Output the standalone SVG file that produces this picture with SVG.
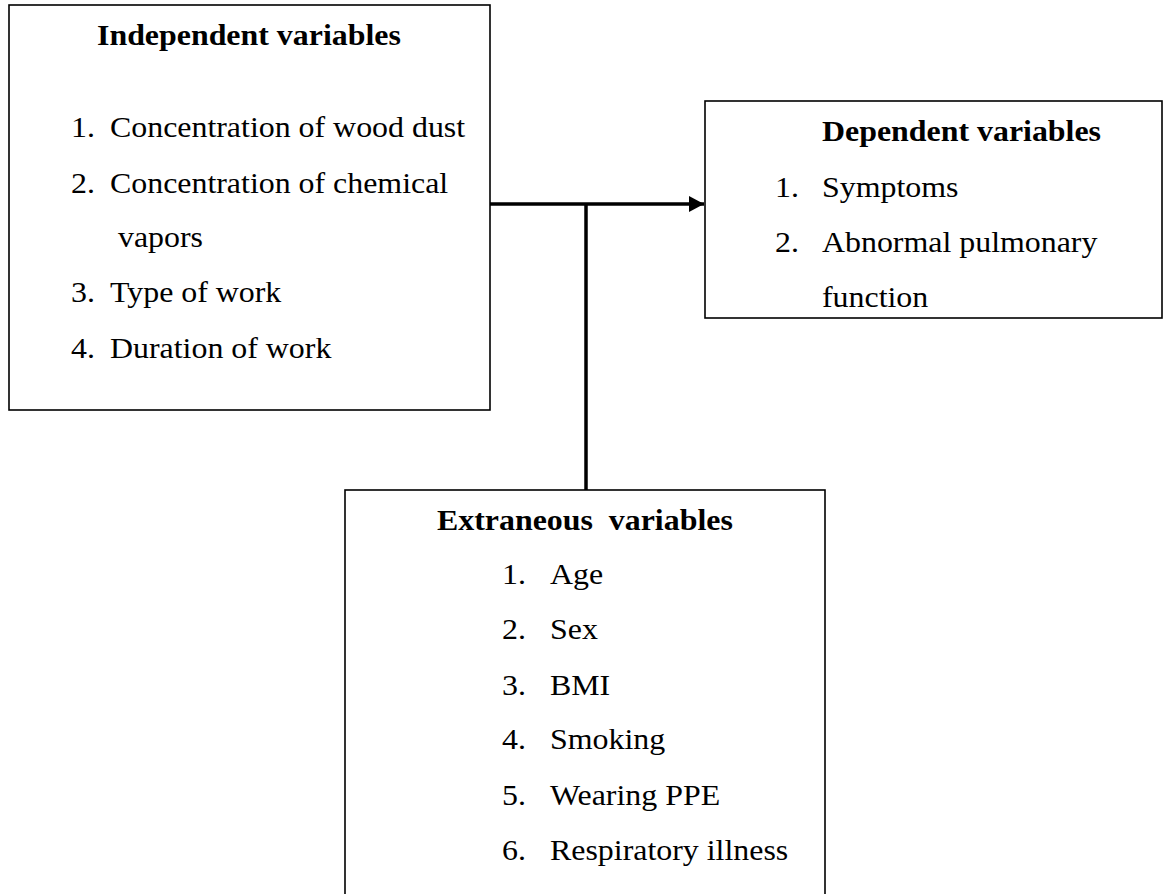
<svg xmlns="http://www.w3.org/2000/svg" width="1163" height="894" viewBox="0 0 1163 894">
<style>
.box{fill:#fff;stroke:#000;stroke-width:1.6}
.t{font-family:"Liberation Serif","Times New Roman",serif;font-size:29px;fill:#000}
.b{font-weight:bold}
.conn{stroke:#000;stroke-width:3.5;fill:none}
</style>
<defs>
<marker id="arr" markerUnits="userSpaceOnUse" markerWidth="16" markerHeight="18" refX="15" refY="8" orient="auto">
<path d="M0,0 L15,8 L0,16 Z" fill="#000"/>
</marker>
</defs>
<rect width="1163" height="894" fill="#fff"/>
<g id="connectors">
<line class="conn" x1="490" y1="204" x2="704" y2="204" marker-end="url(#arr)"/>
<line class="conn" x1="586" y1="204" x2="586" y2="490"/>
</g>
<g id="independent">
<rect class="box" x="9" y="5" width="481" height="405"/>
<text class="t b" transform="translate(97,45) scale(1.1,1)">Independent variables</text>
<text class="t" transform="translate(71,137) scale(1.1,1)">1.</text>
<text class="t" transform="translate(110,137) scale(1.1,1)">Concentration of wood dust</text>
<text class="t" transform="translate(71,193) scale(1.1,1)">2.</text>
<text class="t" transform="translate(110,193) scale(1.1,1)">Concentration of chemical</text>
<text class="t" transform="translate(118,247) scale(1.1,1)">vapors</text>
<text class="t" transform="translate(71,302) scale(1.1,1)">3.</text>
<text class="t" transform="translate(110,302) scale(1.1,1)">Type of work</text>
<text class="t" transform="translate(71,358) scale(1.1,1)">4.</text>
<text class="t" transform="translate(110,358) scale(1.1,1)">Duration of work</text>
</g>
<g id="dependent">
<rect class="box" x="705" y="101" width="457" height="217"/>
<text class="t b" transform="translate(822,141) scale(1.1,1)">Dependent variables</text>
<text class="t" transform="translate(775,197) scale(1.1,1)">1.</text>
<text class="t" transform="translate(822,197) scale(1.1,1)">Symptoms</text>
<text class="t" transform="translate(775,252) scale(1.1,1)">2.</text>
<text class="t" transform="translate(822,252) scale(1.1,1)">Abnormal pulmonary</text>
<text class="t" transform="translate(822,307) scale(1.1,1)">function</text>
</g>
<g id="extraneous">
<rect class="box" x="345" y="490" width="480" height="420"/>
<text class="t b" transform="translate(437,530) scale(1.1,1)" xml:space="preserve">Extraneous  variables</text>
<text class="t" transform="translate(502,584) scale(1.1,1)">1.</text>
<text class="t" transform="translate(550,584) scale(1.1,1)">Age</text>
<text class="t" transform="translate(502,639) scale(1.1,1)">2.</text>
<text class="t" transform="translate(550,639) scale(1.1,1)">Sex</text>
<text class="t" transform="translate(502,695) scale(1.1,1)">3.</text>
<text class="t" transform="translate(550,695) scale(1.1,1)">BMI</text>
<text class="t" transform="translate(502,749) scale(1.1,1)">4.</text>
<text class="t" transform="translate(550,749) scale(1.1,1)">Smoking</text>
<text class="t" transform="translate(502,805) scale(1.1,1)">5.</text>
<text class="t" transform="translate(550,805) scale(1.1,1)">Wearing PPE</text>
<text class="t" transform="translate(502,860) scale(1.1,1)">6.</text>
<text class="t" transform="translate(550,860) scale(1.1,1)">Respiratory illness</text>
</g>
</svg>
